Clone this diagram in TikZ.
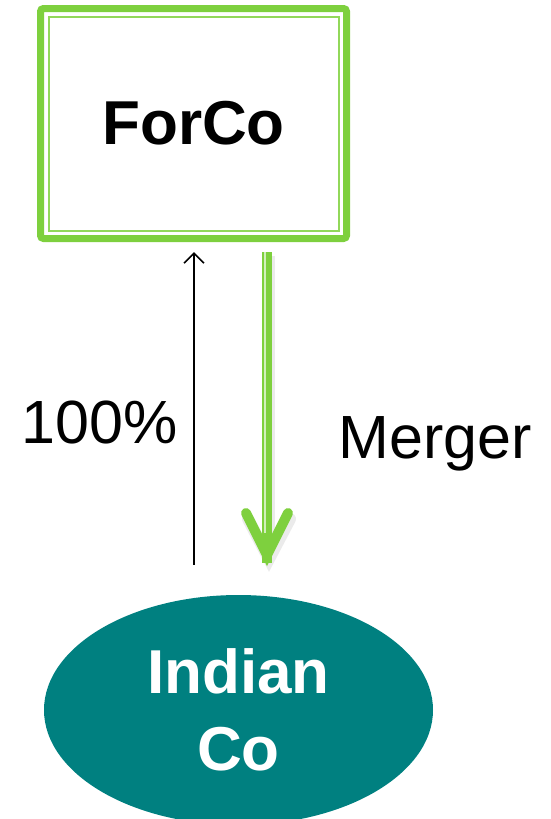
\documentclass[tikz,border=0pt]{standalone}
\usepackage{fontspec}
\setmainfont{Liberation Sans}
\usetikzlibrary{shapes.geometric,arrows.meta}
\definecolor{leafgreen}{HTML}{7ED03E}
\definecolor{palegreen}{HTML}{92D85A}
\definecolor{tealfill}{HTML}{008080}
\tikzset{
  company/.style={draw=leafgreen, line width=7pt, rounded corners=3pt,
    minimum width=306pt, minimum height=230pt, inner sep=0pt,
    font=\bfseries\fontsize{62}{70}\selectfont},
  subsidiary/.style={ellipse, fill=tealfill, text=white, minimum width=389pt,
    minimum height=230pt, inner sep=0pt, align=center,
    font=\bfseries\fontsize{62}{77}\selectfont},
  owns/.style={line width=1.6pt, -{Straight Barb[length=10pt, width=20pt, line width=1.6pt]}},
  lbl/.style={font=\fontsize{61}{70}\selectfont, anchor=base, inner sep=0pt}
}
\begin{document}
\begin{tikzpicture}[x=1pt, y=-1pt]
  \useasboundingbox (0,0) rectangle (550,819);

  % parent company box with a thick-thin frame
  \node[company] (forco) at (193.5,123.5) {ForCo};
  \draw[palegreen, line width=2pt] ([shift={(11.5,-11.5)}]forco.south west) rectangle ([shift={(-11.5,11.5)}]forco.north east);

  % Indian subsidiary
  \node[subsidiary] (indian) at (238.5,710) {Indian\\Co};

  % shareholding arrow
  \path (forco.south) ++(0.5,10) coordinate (ownTop);
  \path (indian.north) ++(-44.5,-30) coordinate (ownBot);
  \draw[owns] (ownBot) -- (ownTop);

  % merger arrow (soft shadow, shaft, chevron head)
  \path (forco.south) ++(73.5,10) coordinate (mTop);
  \path (mTop) ++(0,303) coordinate (mTip);
  \draw[black, opacity=0.08, line width=12pt] ([shift={(2,4)}]mTop) -- ([shift={(2,-6)}]mTip);
  \draw[black, opacity=0.08, line width=12pt, line cap=round, line join=miter]
    ([shift={(-19,-36)}]mTip) -- ([shift={(2,4)}]mTip) -- ([shift={(23,-36)}]mTip);
  \draw[leafgreen, line width=10pt] (mTop) -- ([yshift=-8]mTip);
  \draw[palegreen!40!white, line width=1.5pt] ([xshift=-2]mTop) -- ([shift={(-2,-22)}]mTip);
  \draw[leafgreen, line width=10pt, line cap=round, line join=miter]
    ([shift={(-21,-42)}]mTip) -- (mTip) -- ([shift={(21,-42)}]mTip);

  % labels
  \node[lbl] (pct) at (100,443) {100\%};
  \node[lbl] (mrg) at (435.5,458) {Merger};
\end{tikzpicture}
\end{document}
